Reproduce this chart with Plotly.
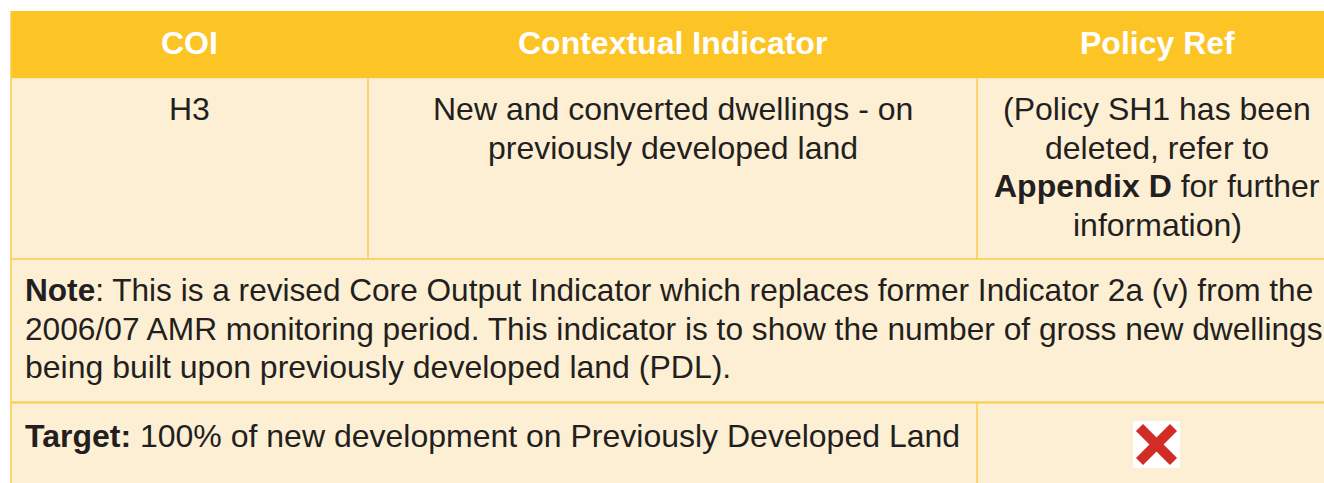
import plotly.graph_objects as go

# ---- content ----
header_labels = ["COI", "Contextual Indicator", "Policy Ref"]
coi_code = ["H3"]
indicator_lines = ["New and converted dwellings - on", "previously developed land"]
policy_lines = ["(Policy SH1 has been", "deleted, refer to",
                "<b>Appendix D</b> for further", "information)"]
note_lines = [
    "<b>Note</b>: This is a revised Core Output Indicator which replaces former Indicator 2a (v) from the",
    "2006/07 AMR monitoring period. This indicator is to show the number of gross new dwellings",
    "being built upon previously developed land (PDL).",
]
target_lines = ["<b>Target:</b> 100% of new development on Previously Developed Land"]
target_met = [False]

# ---- layout geometry (pixels) ----
W, H = 1324, 483
X0, X1, X2, X3 = 11, 368, 977, 1337
Y0, Y1, Y2, Y3, Y4 = 11, 78.5, 259, 402.5, 500
LINE = 38.5

HEADER = "#FDC426"
BODY = "#FDEFD4"
BORDER = "#FCCB48"
TEXT = "#231F20"
FONT = "Liberation Sans, Arial, sans-serif"
FS = 32
NOTE_FS = [31.6, 31.7, 32]

fig = go.Figure()
shapes = []
ann = []

# backgrounds
shapes.append(dict(type="rect", x0=X0, x1=X3, y0=Y0, y1=Y1, fillcolor=HEADER, line_width=0, layer="below"))
shapes.append(dict(type="rect", x0=X0, x1=X3, y0=Y1, y1=Y4, fillcolor=BODY, line_width=0, layer="below"))

# borders
def ln(x0, y0, x1, y1, w=1.5, c=BORDER):
    shapes.append(dict(type="line", x0=x0, y0=y0, x1=x1, y1=y1, line=dict(color=c, width=w)))

ln(X0, Y0, X0, Y4)
ln(X1, Y1, X1, Y2)
ln(X2, Y1, X2, Y2)
ln(X0, Y2, X3, Y2)
ln(X0, Y3, X3, Y3, w=2)
ln(X2, Y3, X2, Y4)
ln(X1, Y0, X1, Y1, w=1, c="#FCC42E")
ln(X2, Y0, X2, Y1, w=1, c="#FCC42E")

def text(x, y, s, anchor="center", bold=False, color=TEXT, size=FS):
    ann.append(dict(x=x, y=y, xref="x", yref="y", text=(f"<b>{s}</b>" if bold else s),
                    showarrow=False, xanchor=anchor, yanchor="middle",
                    font=dict(family=FONT, size=size, color=color)))

centers = [(X0 + X1) / 2, (X1 + X2) / 2, (X2 + X3) / 2]
for cx, lab in zip(centers, header_labels):
    text(cx, 43, lab, bold=True, color="white")

row1_top = 109
for i, s in enumerate(coi_code):
    text(centers[0], row1_top + i * LINE, s)
for i, s in enumerate(indicator_lines):
    text(centers[1], row1_top + i * LINE, s)
for i, s in enumerate(policy_lines):
    text(centers[2], row1_top + i * LINE, s)

for i, s in enumerate(note_lines):
    text(23, 290 + i * LINE, s, anchor="left", size=NOTE_FS[i])
for i, s in enumerate(target_lines):
    text(23, 436 + i * LINE, s, anchor="left")

# target status mark (red cross on white square)
for i, met in enumerate(target_met):
    cx, cy = 1156.5, 444.5
    shapes.append(dict(type="rect", x0=cx - 23.5, x1=cx + 23.5, y0=cy - 23.5, y1=cy + 23.5,
                       fillcolor="white", line_width=0))
    if not met:
        d = 17
        for sgn in (1, -1):
            shapes.append(dict(type="line", x0=cx - d, y0=cy - sgn * d, x1=cx + d, y1=cy + sgn * d,
                               line=dict(color="#D22C27", width=10)))

fig.update_layout(
    width=W, height=H, margin=dict(l=0, r=0, t=0, b=0),
    paper_bgcolor="white", plot_bgcolor="white",
    xaxis=dict(range=[0, W], visible=False, fixedrange=True),
    yaxis=dict(range=[H, 0], visible=False, fixedrange=True),
    shapes=shapes, annotations=ann, showlegend=False,
)
fig.write_html("out.html", config={"displayModeBar": False},
               post_script="document.body.style.margin='0';document.body.style.overflow='hidden';")
